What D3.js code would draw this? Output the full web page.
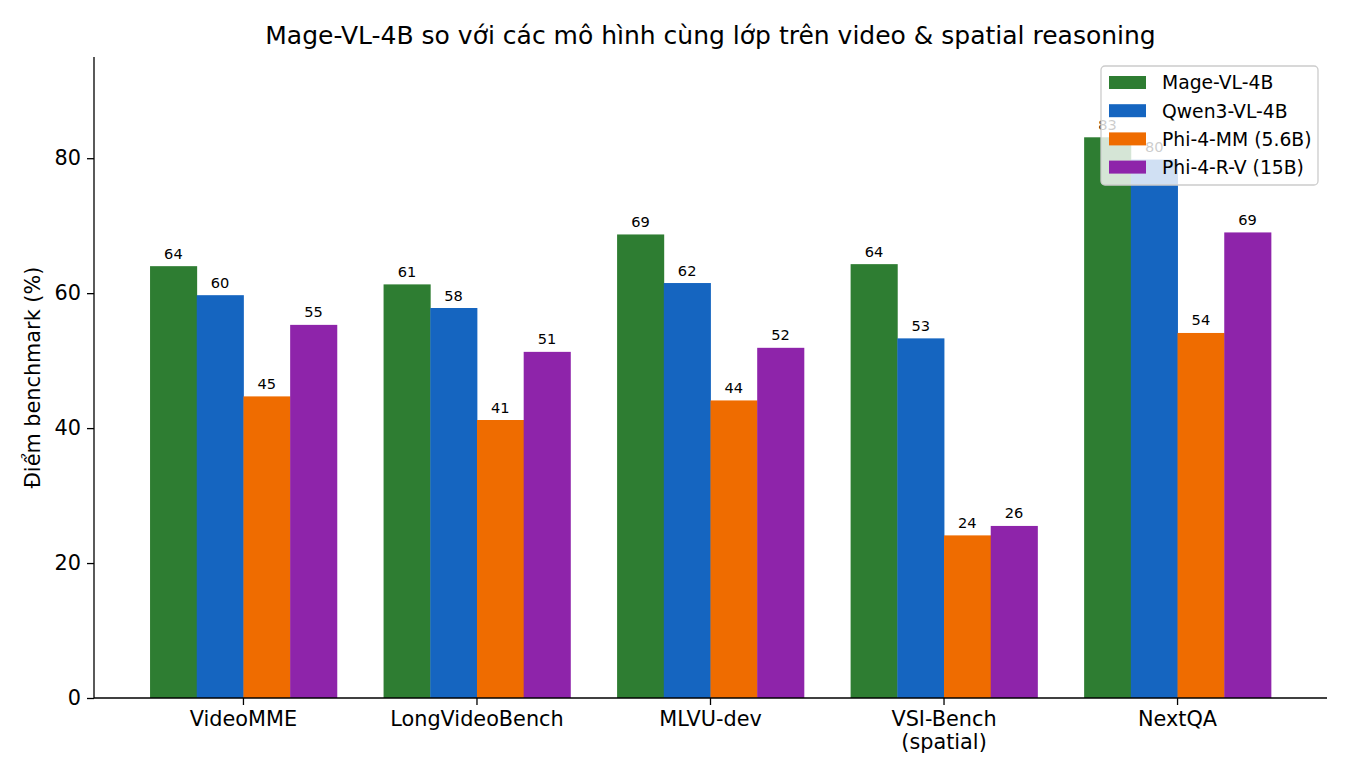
<!DOCTYPE html>
<html>
<head>
<meta charset="utf-8">
<script src="https://cdn.jsdelivr.net/npm/d3@7"></script>
<style>
  body { margin: 0; background: #fff; }
  svg { font-family: "DejaVu Sans", sans-serif; }
</style>
</head>
<body>
<div id="chart"></div>
<script>
// benchmark categories (multi-line labels split on \n)
var categories = ["VideoMME", "LongVideoBench", "MLVU-dev", "VSI-Bench\n(spatial)", "NextQA"];
var models = ["Mage-VL-4B", "Qwen3-VL-4B", "Phi-4-MM (5.6B)", "Phi-4-R-V (15B)"];
var colors = ["#2e7d32", "#1565c0", "#ef6c00", "#8e24aa"];

var mageScores = [64.0, 61.3, 68.7, 64.3, 83.1];
var qwenScores = [59.7, 57.8, 61.5, 53.3, 79.8];
var phiMMScores = [44.7, 41.2, 44.1, 24.1, 54.1];
var phiRVScores = [55.3, 51.3, 51.9, 25.5, 69.0];
var yTicks = [0, 20, 40, 60, 80];

var seriesValues = [mageScores, qwenScores, phiMMScores, phiRVScores];

var W = 1350, H = 780;
var margin = {top: 57, right: 23, bottom: 82, left: 94};
var width = W - margin.left - margin.right;
var height = H - margin.top - margin.bottom;

var svg = d3.select("#chart").append("svg")
    .attr("width", W)
    .attr("height", H);

var g = svg.append("g")
    .attr("transform", `translate(${margin.left}, ${margin.top})`);

var xScale = d3.scaleBand()
    .domain(categories)
    .range([0, width])
    .paddingInner(0.2)
    .paddingOuter(0.24);

var xSub = d3.scaleBand()
    .domain(models)
    .range([0, xScale.bandwidth()]);

var yScale = d3.scaleLinear()
    .domain([0, 95])
    .range([height, 0]);

// bars
models.forEach(function (m, mi) {
    var rows = categories.map((c, ci) => ({cat: c, val: seriesValues[mi][ci]}));
    g.selectAll(".bar-" + mi).data(rows)
        .enter()
        .append("rect")
        .attr("class", "bar-" + mi)
        .attr("x", d => xScale(d.cat) + xSub(m))
        .attr("width", xSub.bandwidth() + 0.4) // hide antialias seams
        .attr("y", d => yScale(d.val))
        .attr("height", d => height - yScale(d.val))
        .style("fill", colors[mi]);

    // value labels
    g.selectAll(".lbl-" + mi).data(rows)
        .enter()
        .append("text")
        .attr("x", d => xScale(d.cat) + xSub(m) + xSub.bandwidth() / 2)
        .attr("y", d => yScale(d.val) - 7.5)
        .attr("text-anchor", "middle")
        .style("font-size", "14.6px")
        .style("fill", "#000")
        .text(d => Math.round(d.val));
});

// y axis
var yAxis = d3.axisLeft(yScale)
    .tickValues(yTicks)
    .tickSize(7)
    .tickPadding(6);

var yG = g.append("g").call(yAxis);
yG.select(".domain").attr("d", `M0,${height}V0`);

// x axis
var xAxis = d3.axisBottom(xScale)
    .tickSize(7)
    .tickPadding(6);

var xG = g.append("g")
    .attr("transform", `translate(0, ${height})`)
    .call(xAxis);
xG.select(".domain").attr("d", `M0,0H${width}`);

xG.selectAll(".tick text").each(function (d) {
    var t = d3.select(this);
    var lines = d.split("\n");
    t.text(null);
    lines.forEach(function (line, i) {
        t.append("tspan")
            .attr("x", 0)
            .attr("dy", i === 0 ? "0.71em" : "1.13em")
            .text(line);
    });
});

[yG, xG].forEach(function (ax) {
    ax.selectAll(".domain").attr("stroke", "#000").attr("stroke-width", 1.3);
    ax.selectAll(".tick line").attr("stroke", "#000").attr("stroke-width", 1.3);
    ax.selectAll("text").style("font-size", "20.8px").style("fill", "#000")
        .style("font-family", "DejaVu Sans, sans-serif");
});

// y label
svg.append("text")
    .attr("transform", `translate(40, ${margin.top + height / 2}) rotate(-90)`)
    .attr("text-anchor", "middle")
    .style("font-size", "20.8px")
    .text("Điểm benchmark (%)");

// title
svg.append("text")
    .attr("x", margin.left + width / 2)
    .attr("y", 44)
    .attr("text-anchor", "middle")
    .style("font-size", "25px")
    .text("Mage-VL-4B so với các mô hình cùng lớp trên video & spatial reasoning");

// legend (upper right, semi-transparent like matplotlib)
var legend = svg.append("g")
    .attr("transform", "translate(1101, 66)");

legend.append("rect")
    .attr("width", 217)
    .attr("height", 119)
    .attr("rx", 4)
    .style("fill", "#fff")
    .style("fill-opacity", 0.8)
    .style("stroke", "#ccc")
    .style("stroke-width", 1.3);

models.forEach(function (m, i) {
    var row = legend.append("g")
        .attr("transform", `translate(0, ${16.5 + i * 28.2})`);
    row.append("rect")
        .attr("x", 8)
        .attr("y", -6.5)
        .attr("width", 37)
        .attr("height", 13)
        .style("fill", colors[i]);
    row.append("text")
        .attr("x", 61)
        .attr("y", 6.8)
        .style("font-size", "18.75px")
        .text(m);
});
</script>
</body>
</html>
